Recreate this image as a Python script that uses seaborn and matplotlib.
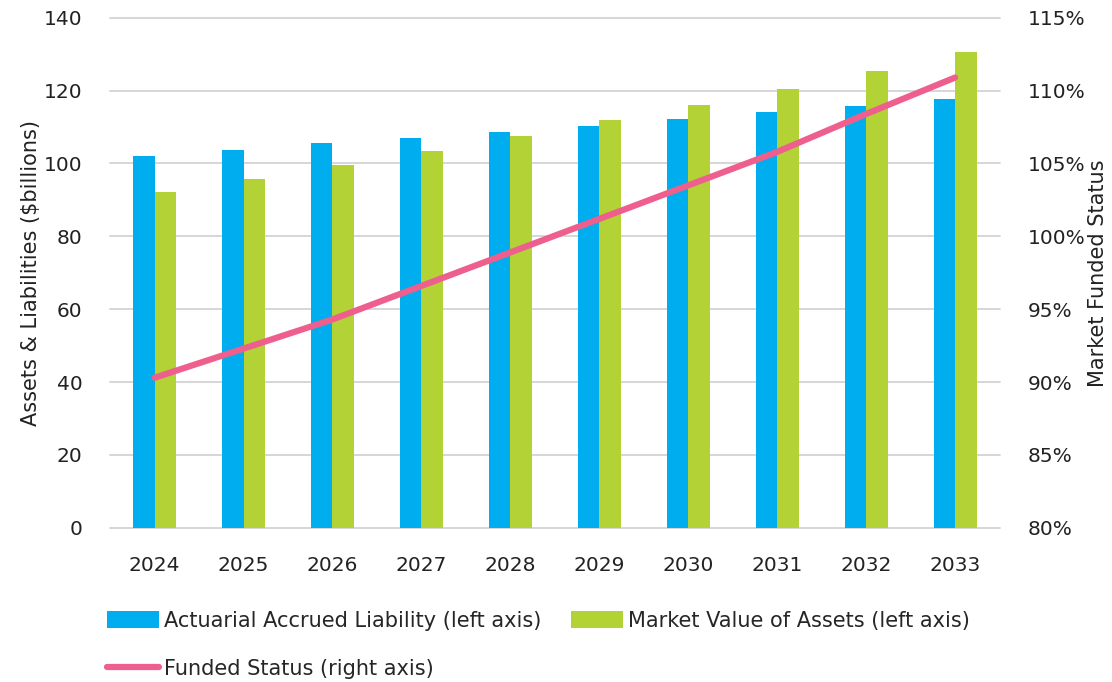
import matplotlib
matplotlib.use("Agg")
import matplotlib.pyplot as plt
import seaborn as sns
import pandas as pd
import numpy as np
from matplotlib.patches import Patch
from matplotlib.lines import Line2D
from matplotlib.ticker import FuncFormatter

years = ["2024", "2025", "2026", "2027", "2028", "2029", "2030", "2031", "2032", "2033"]
liability = [102.0, 103.8, 105.6, 107.0, 108.7, 110.4, 112.2, 114.0, 115.7, 117.8]
assets = [92.2, 95.7, 99.6, 103.5, 107.6, 111.8, 116.1, 120.5, 125.5, 130.6]
funded = [90.3, 92.3, 94.3, 96.6, 98.9, 101.2, 103.5, 105.8, 108.4, 110.9]

lab_liab = "Actuarial Accrued Liability (left axis)"
lab_assets = "Market Value of Assets (left axis)"
lab_funded = "Funded Status (right axis)"

c_blue = "#00AEEF"
c_green = "#B2D235"
c_pink = "#EE5F8D"

sns.set_theme(style="white")
plt.rcParams["font.family"] = ["DejaVu Sans"]

df = pd.DataFrame({
    "year": years * 2,
    "value": liability + assets,
    "series": [lab_liab] * len(years) + [lab_assets] * len(years),
})

fig = plt.figure(figsize=(11.12, 6.82), dpi=100)
ax = fig.add_axes([0.099, 0.226, 0.800, 0.748])

sns.barplot(data=df, x="year", y="value", hue="series", order=years,
            hue_order=[lab_liab, lab_assets], palette=[c_blue, c_green],
            width=0.48, saturation=1, linewidth=0, ax=ax, legend=False)

ax.set_ylim(0, 140)
ax.set_yticks(np.arange(0, 141, 20))
ax.set_xlim(-0.5, len(years) - 0.5)
ax.yaxis.grid(True, color="#d3d3d3", linewidth=1.3)
for gl in ax.get_ygridlines():
    gl.set_clip_on(False)
ax.set_axisbelow(True)
for s in ax.spines.values():
    s.set_visible(False)
ax.set_xlabel("")
ax.set_ylabel("Assets & Liabilities ($billions)", fontsize=15, color="#222222", labelpad=2)
ax.tick_params(axis="y", length=0, pad=20, labelsize=14.5, labelcolor="#222222")
ax.tick_params(axis="x", length=0, pad=20, labelsize=14.5, labelcolor="#222222")

ax2 = ax.twinx()
sns.lineplot(x=np.arange(len(years)), y=funded, color=c_pink, linewidth=4.5,
             ax=ax2, legend=False, solid_capstyle="round")
ax2.set_ylim(80, 115)
ax2.set_yticks(np.arange(80, 116, 5))
ax2.yaxis.set_major_formatter(FuncFormatter(lambda v, p: f"{v:.0f}%"))
for s in ax2.spines.values():
    s.set_visible(False)
ax2.set_ylabel("Market Funded Status", fontsize=15, color="#222222", labelpad=2)
ax2.tick_params(axis="y", length=0, pad=20, labelsize=14.5, labelcolor="#222222")
ax2.set_xlim(-0.5, len(years) - 0.5)

handles = [
    Patch(facecolor=c_blue, edgecolor="none", label=lab_liab),
    Line2D([0], [0], color=c_pink, linewidth=4.5, solid_capstyle="round", label=lab_funded),
    Patch(facecolor=c_green, edgecolor="none", label=lab_assets),
]
fig.legend(handles=handles, ncol=2, loc="lower left", bbox_to_anchor=(0.085, -0.014),
           frameon=False, fontsize=15, handlelength=2.5, handleheight=0.9,
           handletextpad=0.25, columnspacing=1.4, labelspacing=1.35, borderaxespad=0.2)

fig.savefig("out.png", dpi=100)
